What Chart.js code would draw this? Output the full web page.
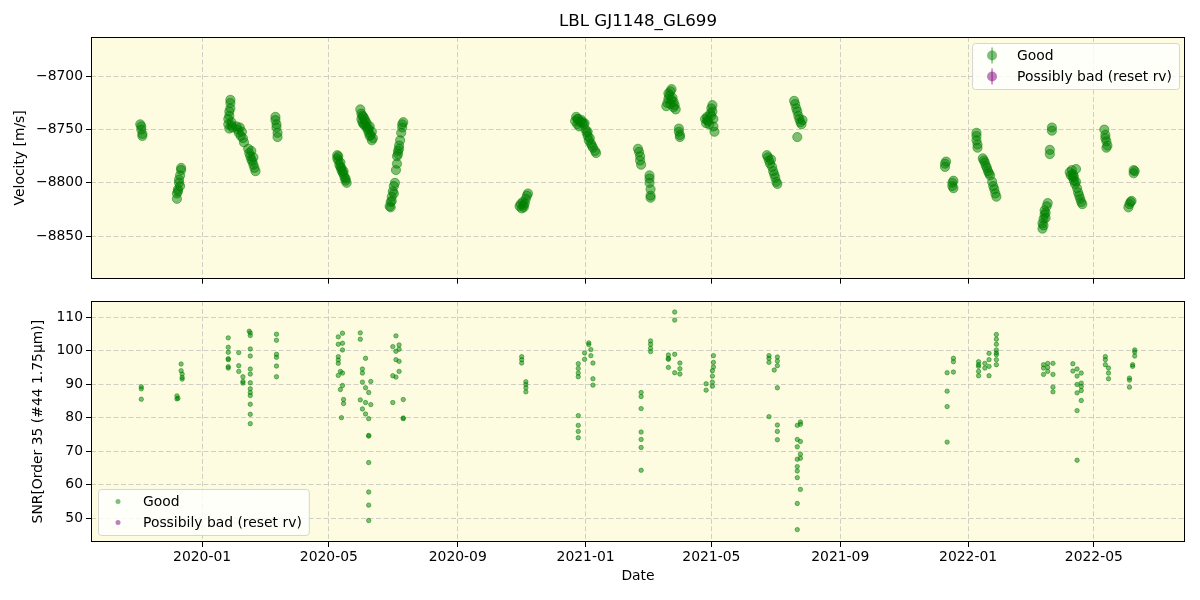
<!DOCTYPE html>
<html>
<head>
<meta charset="utf-8">
<title>LBL GJ1148_GL699</title>
<script src="https://cdn.jsdelivr.net/npm/chart.js@4.4.1/dist/chart.umd.min.js"></script>
<style>
  html, body { margin: 0; padding: 0; background: #fff; }
  #wrap { position: relative; width: 1200px; height: 600px; }
  #wrap canvas { position: absolute; left: 0; }
  #rvChart { top: 0; }
  #snrChart { top: 290px; }
</style>
</head>
<body>
<div id="wrap">
  <canvas id="rvChart" width="1200" height="290"></canvas>
  <canvas id="snrChart" width="1200" height="310"></canvas>
</div>
<script>
// --- data ---

const xMin = '2019-09-17';
const xMax = '2022-07-27';
const tickDates = ['2020-01-01', '2020-05-01', '2020-09-01', '2021-01-01', '2021-05-01', '2021-09-01', '2022-01-01', '2022-05-01'];
const tickLabels = ['2020-01', '2020-05', '2020-09', '2021-01', '2021-05', '2021-09', '2022-01', '2022-05'];
const rvTicks = [-8850, -8800, -8750, -8700];
const snrTicks = [50, 60, 70, 80, 90, 100, 110];

// velocity panel, "Good" points
const rvDates = [
  '2019-11-03', '2019-11-04', '2019-11-04', '2019-11-05', '2019-11-05',
  '2019-12-08', '2019-12-08', '2019-12-09', '2019-12-09', '2019-12-10', '2019-12-10', '2019-12-11', '2019-12-12', '2019-12-12', '2019-12-11',
  '2020-01-26', '2020-01-26', '2020-01-27', '2020-01-27', '2020-01-27', '2020-01-28', '2020-01-28', '2020-01-29', '2020-01-30', '2020-01-28', '2020-01-29',
  '2020-02-03', '2020-02-04', '2020-02-05', '2020-02-06', '2020-02-07', '2020-02-08', '2020-02-09', '2020-02-10',
  '2020-02-14', '2020-02-15', '2020-02-16', '2020-02-17', '2020-02-17', '2020-02-18', '2020-02-19', '2020-02-19', '2020-02-20', '2020-02-21',
  '2020-03-11', '2020-03-11', '2020-03-12', '2020-03-12', '2020-03-13', '2020-03-13',
  '2020-05-09', '2020-05-09', '2020-05-10', '2020-05-11', '2020-05-12', '2020-05-12', '2020-05-13', '2020-05-14', '2020-05-15', '2020-05-16', '2020-05-17', '2020-05-18',
  '2020-05-10', '2020-05-13', '2020-05-15', '2020-05-17',
  '2020-05-31', '2020-06-01', '2020-06-01', '2020-06-02', '2020-06-03', '2020-06-03', '2020-06-04', '2020-06-05', '2020-06-06', '2020-06-07', '2020-06-08', '2020-06-09', '2020-06-10', '2020-06-11', '2020-06-12',
  '2020-06-02', '2020-06-04', '2020-06-06', '2020-06-08', '2020-06-09', '2020-06-11',
  '2020-06-28', '2020-06-29', '2020-06-29', '2020-06-30', '2020-07-01', '2020-07-02', '2020-07-03', '2020-06-30', '2020-07-02',
  '2020-07-04', '2020-07-05', '2020-07-05', '2020-07-06', '2020-07-07', '2020-07-08', '2020-07-09', '2020-07-10', '2020-07-10', '2020-07-11', '2020-07-06', '2020-07-07',
  '2020-10-30', '2020-10-31', '2020-11-01', '2020-11-02', '2020-11-03', '2020-11-03', '2020-11-04', '2020-11-05', '2020-11-06', '2020-11-07',
  '2020-12-22', '2020-12-23', '2020-12-24', '2020-12-25', '2020-12-26', '2020-12-27', '2020-12-28', '2020-12-30', '2020-12-31',
  '2021-01-01', '2021-01-02', '2021-01-03', '2021-01-04', '2021-01-05', '2021-01-06', '2021-01-08', '2021-01-10', '2021-01-11',
  '2020-12-24', '2020-12-29', '2021-01-03', '2021-01-07',
  '2021-02-20', '2021-02-21', '2021-02-22', '2021-02-22', '2021-02-23',
  '2021-03-03', '2021-03-03', '2021-03-03', '2021-03-04', '2021-03-04', '2021-03-04',
  '2021-03-19', '2021-03-20', '2021-03-21', '2021-03-22', '2021-03-23', '2021-03-23', '2021-03-24', '2021-03-25', '2021-03-26', '2021-03-27', '2021-03-28',
  '2021-03-21', '2021-03-24', '2021-03-26',
  '2021-03-31', '2021-03-31', '2021-04-01', '2021-04-01',
  '2021-04-25', '2021-04-26', '2021-04-27', '2021-04-28', '2021-04-29', '2021-04-30', '2021-05-01', '2021-05-02', '2021-05-02', '2021-05-03', '2021-05-03', '2021-05-04',
  '2021-04-27', '2021-05-01',
  '2021-06-23', '2021-06-24', '2021-06-25', '2021-06-26', '2021-06-27', '2021-06-28', '2021-06-29', '2021-06-30', '2021-07-01', '2021-07-02', '2021-07-03',
  '2021-07-19', '2021-07-20', '2021-07-21', '2021-07-22', '2021-07-22', '2021-07-23', '2021-07-24', '2021-07-25', '2021-07-26', '2021-07-27',
  '2021-12-10', '2021-12-10', '2021-12-11',
  '2021-12-17', '2021-12-17', '2021-12-18', '2021-12-18',
  '2022-01-09', '2022-01-09', '2022-01-09', '2022-01-10', '2022-01-10',
  '2022-01-15', '2022-01-16', '2022-01-17', '2022-01-18', '2022-01-19', '2022-01-20', '2022-01-21', '2022-01-22',
  '2022-01-24', '2022-01-25', '2022-01-26', '2022-01-27', '2022-01-28',
  '2022-03-13', '2022-03-13', '2022-03-14', '2022-03-14', '2022-03-15', '2022-03-15', '2022-03-16', '2022-03-16', '2022-03-17', '2022-03-18',
  '2022-03-20', '2022-03-20', '2022-03-22', '2022-03-22',
  '2022-04-08', '2022-04-09', '2022-04-10', '2022-04-11', '2022-04-11', '2022-04-12', '2022-04-13', '2022-04-14', '2022-04-15', '2022-04-16', '2022-04-17', '2022-04-18', '2022-04-19', '2022-04-20',
  '2022-04-12', '2022-04-14',
  '2022-05-11', '2022-05-12', '2022-05-12', '2022-05-13', '2022-05-13', '2022-05-14',
  '2022-06-03', '2022-06-04', '2022-06-05', '2022-06-06',
  '2022-06-08', '2022-06-08', '2022-06-09'
];
const rvValues = [
  -8745, -8747, -8750, -8754, -8756,
  -8815, -8810, -8808, -8806, -8800, -8797, -8793, -8788, -8786, -8803,
  -8745, -8740, -8749, -8737, -8733, -8725, -8722, -8743, -8748, -8730, -8746,
  -8747, -8750, -8753, -8748, -8756, -8752, -8758, -8762,
  -8768, -8772, -8775, -8778, -8770, -8780, -8783, -8776, -8786, -8789,
  -8738, -8741, -8745, -8748, -8753, -8757,
  -8774, -8777, -8779, -8783, -8785, -8781, -8788, -8790, -8792, -8795, -8798, -8800,
  -8775, -8786, -8789, -8796,
  -8731, -8735, -8740, -8743, -8738, -8745, -8745, -8742, -8748, -8750, -8753, -8747, -8755, -8760, -8758,
  -8737, -8740, -8744, -8749, -8756, -8752,
  -8822, -8818, -8823, -8813, -8808, -8803, -8800, -8817, -8810,
  -8788, -8782, -8775, -8770, -8768, -8760, -8753, -8748, -8745, -8743, -8773, -8765,
  -8822, -8820, -8824, -8818, -8821, -8823, -8819, -8815, -8812, -8810,
  -8742, -8738, -8745, -8740, -8747, -8743, -8741, -8745, -8744,
  -8750, -8753, -8756, -8760, -8758, -8763, -8767, -8770, -8772,
  -8740, -8743, -8752, -8765,
  -8768, -8771, -8775, -8779, -8783,
  -8793, -8796, -8800, -8806, -8812, -8814,
  -8728, -8725, -8721, -8718, -8714, -8726, -8712, -8720, -8724, -8727, -8731,
  -8716, -8722, -8729,
  -8749, -8752, -8755, -8757,
  -8740, -8744, -8738, -8742, -8745, -8735, -8730, -8727, -8733, -8740, -8747, -8752,
  -8741, -8737,
  -8774, -8776, -8779, -8782, -8778, -8785, -8789, -8792, -8795, -8799, -8801,
  -8723, -8726, -8730, -8733, -8757, -8737, -8740, -8743, -8745, -8741,
  -8782, -8785, -8780,
  -8800, -8803, -8805, -8798,
  -8753, -8756, -8760, -8764, -8767,
  -8777, -8779, -8781, -8784, -8786, -8789, -8791, -8793,
  -8799, -8803, -8806, -8810, -8813,
  -8843, -8838, -8840, -8834, -8830, -8826, -8828, -8833, -8822, -8819,
  -8769, -8773, -8748, -8751,
  -8790, -8793, -8788, -8795, -8792, -8798, -8801, -8787, -8805, -8809, -8812, -8815, -8818, -8820,
  -8794, -8799,
  -8750, -8755, -8758, -8761, -8767, -8765,
  -8823, -8820, -8818, -8817,
  -8788, -8791, -8789
];
// velocity panel, "Possibly bad (reset rv)" points (none in this figure)
const rvBadDates = [];
const rvBadValues = [];

// SNR panel, "Good" points
const snrDates = [
  '2019-11-04', '2019-11-04', '2019-11-04',
  '2019-12-08', '2019-12-08', '2019-12-09',
  '2019-12-12', '2019-12-12', '2019-12-13', '2019-12-13', '2019-12-13',
  '2020-01-26', '2020-01-26', '2020-01-26', '2020-01-26', '2020-01-26', '2020-01-26', '2020-01-26',
  '2020-02-05', '2020-02-05', '2020-02-05',
  '2020-02-09', '2020-02-09', '2020-02-09',
  '2020-02-15', '2020-02-16', '2020-02-16', '2020-02-16', '2020-02-16', '2020-02-16', '2020-02-16', '2020-02-16', '2020-02-16', '2020-02-16', '2020-02-16', '2020-02-16', '2020-02-16', '2020-02-16',
  '2020-03-12', '2020-03-12', '2020-03-12', '2020-03-12', '2020-03-12', '2020-03-12',
  '2020-05-10', '2020-05-10', '2020-05-10', '2020-05-10', '2020-05-10', '2020-05-10',
  '2020-05-12', '2020-05-12', '2020-05-13',
  '2020-05-14', '2020-05-14', '2020-05-14', '2020-05-14', '2020-05-14',
  '2020-05-15', '2020-05-15',
  '2020-05-31', '2020-05-31', '2020-05-31',
  '2020-06-02', '2020-06-02', '2020-06-02', '2020-06-02',
  '2020-06-05', '2020-06-05', '2020-06-05', '2020-06-05',
  '2020-06-08', '2020-06-08', '2020-06-08', '2020-06-08', '2020-06-08', '2020-06-08', '2020-06-08', '2020-06-08',
  '2020-06-10', '2020-06-10',
  '2020-07-01', '2020-07-01', '2020-07-01',
  '2020-07-04', '2020-07-04', '2020-07-04', '2020-07-04',
  '2020-07-07', '2020-07-07', '2020-07-07', '2020-07-07',
  '2020-07-11', '2020-07-11', '2020-07-11',
  '2020-11-01', '2020-11-01', '2020-11-01',
  '2020-11-05', '2020-11-05', '2020-11-05', '2020-11-05',
  '2020-12-25', '2020-12-25', '2020-12-25', '2020-12-25', '2020-12-25', '2020-12-25', '2020-12-25', '2020-12-25',
  '2020-12-31', '2020-12-31',
  '2021-01-04', '2021-01-04',
  '2021-01-06', '2021-01-06',
  '2021-01-08', '2021-01-08', '2021-01-08',
  '2021-02-23', '2021-02-23', '2021-02-23', '2021-02-23', '2021-02-23', '2021-02-23', '2021-02-23',
  '2021-03-04', '2021-03-04', '2021-03-04', '2021-03-04',
  '2021-03-21', '2021-03-21', '2021-03-21', '2021-03-21',
  '2021-03-27', '2021-03-27', '2021-03-27', '2021-03-27',
  '2021-04-01', '2021-04-01', '2021-04-01',
  '2021-04-26', '2021-04-26',
  '2021-05-02', '2021-05-02', '2021-05-02', '2021-05-02',
  '2021-05-03', '2021-05-03', '2021-05-03',
  '2021-06-25', '2021-06-25', '2021-06-25', '2021-06-25',
  '2021-06-30',
  '2021-07-03', '2021-07-03', '2021-07-03', '2021-07-03', '2021-07-03', '2021-07-03', '2021-07-03',
  '2021-07-22', '2021-07-22', '2021-07-22', '2021-07-22', '2021-07-22', '2021-07-22', '2021-07-22', '2021-07-22', '2021-07-22',
  '2021-07-25', '2021-07-25', '2021-07-25', '2021-07-25', '2021-07-25', '2021-07-25',
  '2021-12-12', '2021-12-12', '2021-12-12', '2021-12-12',
  '2021-12-18', '2021-12-18', '2021-12-18',
  '2022-01-11', '2022-01-11', '2022-01-11', '2022-01-11', '2022-01-11',
  '2022-01-17', '2022-01-17',
  '2022-01-21', '2022-01-21', '2022-01-21', '2022-01-21',
  '2022-01-28', '2022-01-28', '2022-01-28', '2022-01-28', '2022-01-28', '2022-01-28', '2022-01-28', '2022-01-28',
  '2022-03-14', '2022-03-14', '2022-03-14',
  '2022-03-18', '2022-03-18', '2022-03-18',
  '2022-03-23', '2022-03-23', '2022-03-23', '2022-03-23',
  '2022-04-11', '2022-04-11',
  '2022-04-15', '2022-04-15', '2022-04-15', '2022-04-15', '2022-04-15', '2022-04-15',
  '2022-04-19', '2022-04-19', '2022-04-19', '2022-04-19', '2022-04-19',
  '2022-05-12', '2022-05-12', '2022-05-12',
  '2022-05-15', '2022-05-15', '2022-05-15',
  '2022-06-04', '2022-06-04', '2022-06-04',
  '2022-06-07', '2022-06-07',
  '2022-06-09', '2022-06-09', '2022-06-09'
];
const snrValues = [
  89.2, 88.6, 85.5,
  86.5, 85.6, 85.8,
  96.0, 94.0, 93.0, 92.0, 91.5,
  103.8, 101.0, 99.5, 97.6, 97.3, 94.8, 95.2,
  99.4, 95.5, 93.8,
  92.2, 90.3, 90.8,
  105.8, 105.3, 104.5, 100.5, 98.4, 94.5, 93.0, 90.4, 88.6, 87.5, 86.6, 84.0, 81.0, 78.2,
  104.9, 103.1, 98.9, 98.0, 95.4, 92.2,
  104.1, 101.9, 98.2, 97.2, 96.2, 92.6,
  93.8, 88.4, 80.0,
  105.2, 102.2, 100.2, 93.3, 89.6,
  85.4, 84.2,
  105.3, 103.4, 85.3,
  94.5, 93.3, 90.6, 82.6,
  97.7, 88.9, 84.5, 81.1,
  87.5, 74.7, 74.5, 79.7, 66.6, 57.8, 53.9, 49.3,
  90.8, 83.9,
  101.2, 92.5, 84.5,
  104.4, 99.8, 97.3, 92.1,
  101.7, 100.4, 96.8, 93.8,
  85.4, 79.7, 79.9,
  98.2, 97.3, 96.3,
  90.7, 89.9, 88.9, 87.7,
  96.1, 94.7, 93.3, 92.2, 80.6, 77.7, 75.9, 74.0,
  99.3, 97.4,
  102.3, 101.8,
  100.3, 98.5,
  96.3, 91.6, 89.7,
  87.5, 86.3, 82.7, 75.7, 73.5, 71.1, 64.3,
  102.9, 101.9, 100.7, 99.7,
  98.7, 97.4, 95.0, 97.7,
  111.5, 109.1, 98.9, 93.4,
  96.3, 94.6, 93.0,
  90.1, 88.2,
  90.6, 89.4, 92.4, 94.0,
  95.1, 96.5, 98.5,
  98.5, 97.7, 96.5, 80.3,
  94.2,
  98.1, 96.9, 95.5, 88.9, 77.8, 75.9, 73.4,
  77.7, 73.5, 71.3, 67.6, 65.4, 64.1, 62.1, 54.4, 46.6,
  78.7, 78.0, 72.9, 69.1, 67.9, 58.6,
  93.4, 87.9, 83.3, 72.7,
  97.7, 96.7, 93.6,
  96.7, 95.3, 95.8, 93.8, 92.5,
  96.2, 94.8,
  99.2, 97.3, 92.5, 95.3,
  95.8, 97.3, 98.8, 100.2, 101.9, 103.4, 104.8, 99.3,
  94.8, 92.9, 95.8,
  96.2, 95.0, 93.8,
  96.2, 92.9, 89.1, 87.7,
  96.1, 93.9,
  94.5, 92.4, 89.9, 82.1, 67.3, 87.4,
  93.3, 90.3, 89.3, 88.1, 85.1,
  98.2, 97.3, 95.8,
  94.8, 93.3, 91.6,
  91.8, 91.2, 89.1,
  95.8, 95.3,
  100.2, 99.6, 98.4
];
// SNR panel, "Possibily bad (reset rv)" points (none in this figure)
const snrBadDates = [];
const snrBadValues = [];

// --- styling ---
const FONT = 'DejaVu Sans';
const FS = 13.9;
const goodColor = 'rgba(0, 128, 0, 0.5)';
const badColor = 'rgba(128, 0, 128, 0.5)';
const gridColor = 'rgba(176, 176, 176, 0.6)';
const panelBg = '#fdfce1';

// days since 2020-01-01, used as the linear x value
const dayZero = Date.parse('2020-01-01');
const toDay = s => (Date.parse(s) - dayZero) / 86400000;
const toPoints = (dates, values) => dates.map((d, i) => ({ x: toDay(d), y: values[i] }));
const minus = v => (v < 0 ? '\u2212' + Math.abs(v) : String(v));

// background, frame, title and in-axes legend (matplotlib look)
const panelPlugin = {
    id: 'panel',
    beforeDraw(chart, args, opts) {
        const { ctx, chartArea: a } = chart;
        ctx.save();
        ctx.fillStyle = panelBg;
        ctx.fillRect(a.left, a.top, a.right - a.left, a.bottom - a.top);
        ctx.restore();
    },
    afterDraw(chart, args, opts) {
        const { ctx, chartArea: a } = chart;
        ctx.save();
        ctx.strokeStyle = '#000';
        ctx.lineWidth = 1;
        ctx.strokeRect(Math.round(a.left) + 0.5, Math.round(a.top) + 0.5,
            Math.round(a.right - a.left) - 1, Math.round(a.bottom - a.top) - 1);

        if (opts.title) {
            ctx.fillStyle = '#000';
            ctx.font = `16.7px "${FONT}"`;
            ctx.textAlign = 'center';
            ctx.textBaseline = 'middle';
            ctx.fillText(opts.title, (a.left + a.right) / 2, 22);
        }

        const lg = opts.legend;
        if (lg) {
            ctx.font = `${FS}px "${FONT}"`;
            const textW = Math.max(...lg.items.map(it => ctx.measureText(it.label).width));
            const w = 45 + textW + 7, h = 46;
            const x = lg.corner === 'tr' ? a.right - 6 - w : a.left + 7;
            const y = lg.corner === 'tr' ? a.top + 6 : a.bottom - 7 - h;
            ctx.beginPath();
            ctx.roundRect(x + 0.5, y + 0.5, w, h, 3);
            ctx.fillStyle = 'rgba(255, 255, 255, 0.8)';
            ctx.fill();
            ctx.strokeStyle = 'rgba(204, 204, 204, 0.8)';
            ctx.stroke();
            lg.items.forEach((it, i) => {
                const cy = y + h / 2 + (i === 0 ? -10.5 : 10.5);
                if (lg.errorbar) {
                    ctx.strokeStyle = it.color;
                    ctx.lineWidth = 1.5;
                    ctx.beginPath();
                    ctx.moveTo(x + 20, cy - 8);
                    ctx.lineTo(x + 20, cy + 8);
                    ctx.stroke();
                }
                ctx.fillStyle = it.color;
                ctx.beginPath();
                ctx.arc(x + 20, cy, lg.radius, 0, Math.PI * 2);
                ctx.fill();
                ctx.fillStyle = '#000';
                ctx.textAlign = 'left';
                ctx.textBaseline = 'middle';
                ctx.fillText(it.label, x + 45, cy + 1);
            });
        }
        ctx.restore();
    }
};

const tickFont = { family: FONT, size: FS };

function xAxis(height, showLabels) {
    return {
        type: 'linear',
        min: toDay(xMin),
        max: toDay(xMax),
        afterBuildTicks: s => { s.ticks = tickDates.map(d => ({ value: toDay(d) })); },
        afterFit: s => { s.height = height; },
        grid: { color: gridColor, lineWidth: 1, drawTicks: true, tickLength: 5, tickColor: '#000', tickWidth: 1 },
        border: { display: false, dash: [5, 2.5] },
        ticks: {
            display: showLabels,
            color: '#000',
            font: tickFont,
            padding: 2,
            autoSkip: false,
            maxRotation: 0,
            callback: (v, i) => tickLabels[i]
        },
        title: {
            display: showLabels,
            text: 'Date',
            color: '#000',
            font: tickFont,
            padding: { top: 4, bottom: 15 }
        }
    };
}

function yAxis(min, max, ticks, label, titlePad) {
    return {
        min: min,
        max: max,
        afterBuildTicks: s => { s.ticks = ticks.map(v => ({ value: v })); },
        afterFit: s => { s.width = 91; },
        grid: { color: gridColor, lineWidth: 1, drawTicks: true, tickLength: 5, tickColor: '#000', tickWidth: 1 },
        border: { display: false, dash: [5, 2.5] },
        ticks: { color: '#000', font: tickFont, padding: 3, callback: v => minus(v) },
        title: { display: true, text: label, color: '#000', font: tickFont, padding: { top: titlePad, bottom: 0 } }
    };
}

function scatterSet(label, dates, values, color, radius) {
    return {
        label: label,
        data: toPoints(dates, values),
        backgroundColor: color,
        borderColor: color,
        borderWidth: 1,
        pointRadius: radius,
        pointHoverRadius: radius
    };
}

Chart.defaults.font.family = FONT;

new Chart(document.getElementById('rvChart').getContext('2d'), {
    type: 'scatter',
    data: {
        datasets: [
            scatterSet('Good', rvDates, rvValues, goodColor, 4.6),
            scatterSet('Possibly bad (reset rv)', rvBadDates, rvBadValues, badColor, 4.6)
        ]
    },
    options: {
        responsive: false,
        animation: false,
        events: [],
        layout: { padding: { top: 37, right: 15, left: 0, bottom: 0 } },
        scales: { x: xAxis(11, false), y: yAxis(-8890, -8663, rvTicks, 'Velocity [m/s]', 12) },
        plugins: {
            legend: { display: false },
            tooltip: { enabled: false },
            panel: {
                title: 'LBL GJ1148_GL699',
                legend: {
                    corner: 'tr', radius: 5, errorbar: true,
                    items: [{ label: 'Good', color: goodColor }, { label: 'Possibly bad (reset rv)', color: badColor }]
                }
            }
        }
    },
    plugins: [panelPlugin]
});

new Chart(document.getElementById('snrChart').getContext('2d'), {
    type: 'scatter',
    data: {
        datasets: [
            scatterSet('Good', snrDates, snrValues, goodColor, 2.2),
            scatterSet('Possibily bad (reset rv)', snrBadDates, snrBadValues, badColor, 2.2)
        ]
    },
    options: {
        responsive: false,
        animation: false,
        events: [],
        layout: { padding: { top: 9, right: 15, left: 0, bottom: 0 } },
        scales: { x: xAxis(58, true), y: yAxis(42.9, 114.7, snrTicks, 'SNR[Order 35 (#44 1.75\u03bcm)]', 30) },
        plugins: {
            legend: { display: false },
            tooltip: { enabled: false },
            panel: {
                legend: {
                    corner: 'bl', radius: 2.5, errorbar: false,
                    items: [{ label: 'Good', color: goodColor }, { label: 'Possibily bad (reset rv)', color: badColor }]
                }
            }
        }
    },
    plugins: [panelPlugin]
});
</script>
</body>
</html>
